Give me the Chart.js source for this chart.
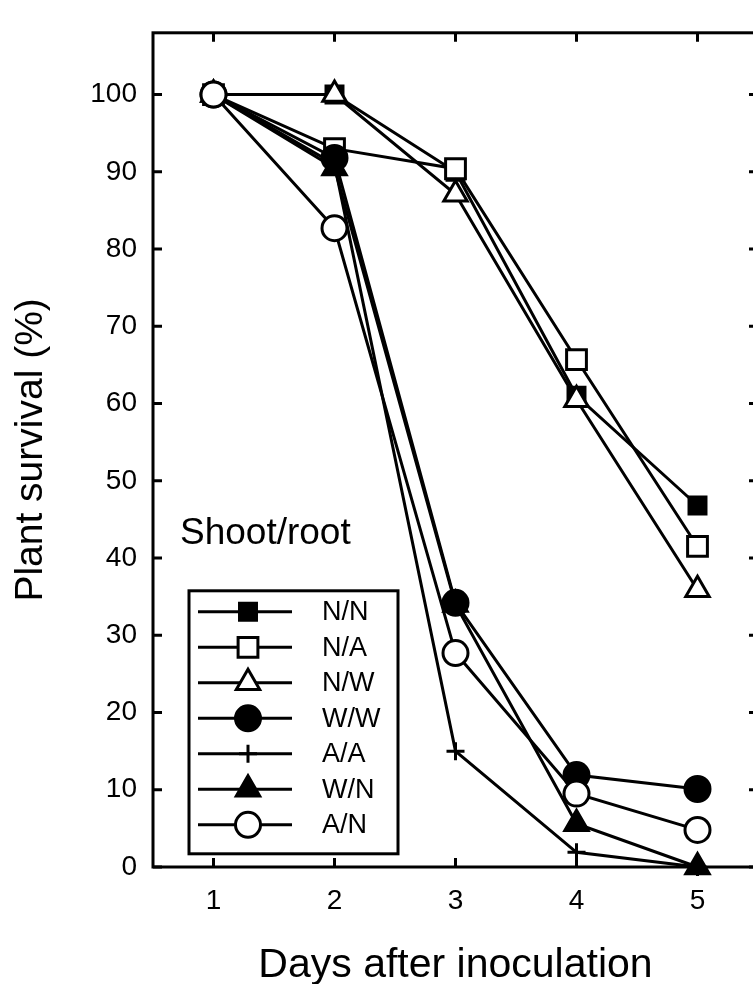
<!DOCTYPE html>
<html>
<head>
<meta charset="utf-8">
<style>
  html, body { margin: 0; padding: 0; background: #fff; overflow: hidden; }
  #wrap { width: 780px; height: 984px; }
</style>
<script src="https://cdn.jsdelivr.net/npm/chart.js"></script>
</head>
<body>
<div id="wrap"><canvas id="survival" width="780" height="984"></canvas></div>
<script>
// days after inoculation
const days = [1, 2, 3, 4, 5]
const yTicks = [0, 10, 20, 30, 40, 50, 60, 70, 80, 90, 100]

// plant survival (%) per shoot/root combination
const NN = [100, 100, 90, 61, 46.8]
const NA = [100, 93, 90.4, 65.7, 41.5]
const NW = [100, 100, 87.1, 60.5, 35.9]
const WW = [100, 91.8, 34.2, 11.9, 10.1]
const AA = [100, 91, 15, 1.9, 0]
const WN = [100, 90.5, 34, 5.6, 0]
const AN = [100, 82.7, 27.7, 9.5, 4.8]

const FONT = '"Liberation Sans", Arial, Helvetica, sans-serif'

function series(label, values, style, radius, filled, order) {
  return {
    label: label,
    data: values.map((v, i) => ({ x: days[i], y: v })),
    borderColor: '#000',
    borderWidth: 3,
    pointStyle: style,
    pointRadius: radius,
    pointHoverRadius: radius,
    pointBorderWidth: 3,
    pointBorderColor: '#000',
    pointBackgroundColor: filled ? '#000' : '#fff',
    tension: 0,
    fill: false,
    clip: false,
    order: order
  }
}

const datasets = [
  series('N/N', NN, 'rect', 12, true, 7),
  series('N/A', NA, 'rect', 14, false, 6),
  series('N/W', NW, 'triangle', 13.5, false, 5),
  series('W/W', WW, 'circle', 12.5, true, 4),
  series('A/A', AA, 'cross', 9, true, 3),
  series('W/N', WN, 'triangle', 13.5, true, 2),
  series('A/N', AN, 'circle', 12.5, false, 1)
]

// frame with inward ticks on all four sides
const framePlugin = {
  id: 'frame',
  beforeDatasetsDraw(chart) {
    const { ctx, chartArea: a, scales } = chart
    ctx.save()
    ctx.strokeStyle = '#000'
    ctx.lineWidth = 3
    ctx.strokeRect(a.left, a.top, a.right - a.left, a.bottom - a.top)
    ctx.lineWidth = 3
    ctx.beginPath()
    scales.x.ticks.forEach(t => {
      const px = scales.x.getPixelForValue(t.value)
      ctx.moveTo(px, a.bottom); ctx.lineTo(px, a.bottom - 9)
      ctx.moveTo(px, a.top); ctx.lineTo(px, a.top + 9)
    })
    scales.y.ticks.forEach(t => {
      const py = scales.y.getPixelForValue(t.value)
      ctx.moveTo(a.left, py); ctx.lineTo(a.left + 9, py)
      ctx.moveTo(a.right, py); ctx.lineTo(a.right - 9, py)
    })
    ctx.stroke()
    ctx.restore()
  }
}

// boxed legend with line + marker samples, and the "Shoot/root" caption
const legendBox = {
  id: 'legendBox',
  afterDraw(chart) {
    const { ctx, chartArea: a } = chart
    const x0 = a.left + 36, y0 = a.top + 558, w = 209, h = 263
    ctx.save()
    ctx.fillStyle = '#000'
    ctx.font = '37px ' + FONT
    ctx.textBaseline = 'alphabetic'
    ctx.textAlign = 'left'
    ctx.fillText('Shoot/root', a.left + 27, a.top + 511)

    ctx.fillStyle = '#fff'
    ctx.fillRect(x0, y0, w, h)
    ctx.strokeStyle = '#000'
    ctx.lineWidth = 3
    ctx.strokeRect(x0, y0, w, h)

    chart.data.datasets.forEach((ds, i) => {
      const cy = y0 + 21 + i * 35.5
      ctx.strokeStyle = '#000'
      ctx.lineWidth = 3
      ctx.beginPath()
      ctx.moveTo(x0 + 9, cy)
      ctx.lineTo(x0 + 103, cy)
      ctx.stroke()
      ctx.fillStyle = ds.pointBackgroundColor
      ctx.strokeStyle = '#000'
      ctx.lineWidth = ds.pointBorderWidth
      Chart.helpers.drawPoint(ctx, {
        pointStyle: ds.pointStyle,
        radius: ds.pointRadius,
        rotation: 0,
        borderWidth: ds.pointBorderWidth
      }, x0 + 59, cy)
      ctx.fillStyle = '#000'
      ctx.font = '27px ' + FONT
      ctx.textBaseline = 'middle'
      ctx.fillText(ds.label, x0 + 133, cy + 1)
    })
    ctx.restore()
  }
}

new Chart(document.getElementById('survival'), {
  type: 'line',
  data: { datasets: datasets },
  options: {
    responsive: false,
    animation: false,
    layout: { padding: { top: 12, right: 22, left: 0, bottom: 0 } },
    plugins: {
      legend: { display: false },
      tooltip: { enabled: false }
    },
    scales: {
      x: {
        type: 'linear',
        min: 0.5,
        max: 5.5,
        afterBuildTicks: s => { s.ticks = days.map(v => ({ value: v })) },
        afterFit: s => { s.height = 117 },
        grid: { display: false, drawTicks: false },
        border: { display: false },
        ticks: {
          color: '#000',
          padding: 17,
          font: { family: FONT, size: 28 }
        },
        title: {
          display: true,
          text: 'Days after inoculation',
          color: '#000',
          font: { family: FONT, size: 41, lineHeight: 1 },
          padding: { top: 0, bottom: -2 }
        }
      },
      y: {
        min: 0,
        max: 108,
        afterBuildTicks: s => { s.ticks = yTicks.map(v => ({ value: v })) },
        afterFit: s => { s.width = 153 },
        grid: { display: false, drawTicks: false },
        border: { display: false },
        ticks: {
          color: '#000',
          padding: 16,
          font: { family: FONT, size: 28 }
        },
        title: {
          display: true,
          text: 'Plant survival (%)',
          color: '#000',
          font: { family: FONT, size: 39, lineHeight: 1.2 },
          padding: { top: 8, bottom: 0 }
        }
      }
    }
  },
  plugins: [framePlugin, legendBox]
})
</script>
</body>
</html>
